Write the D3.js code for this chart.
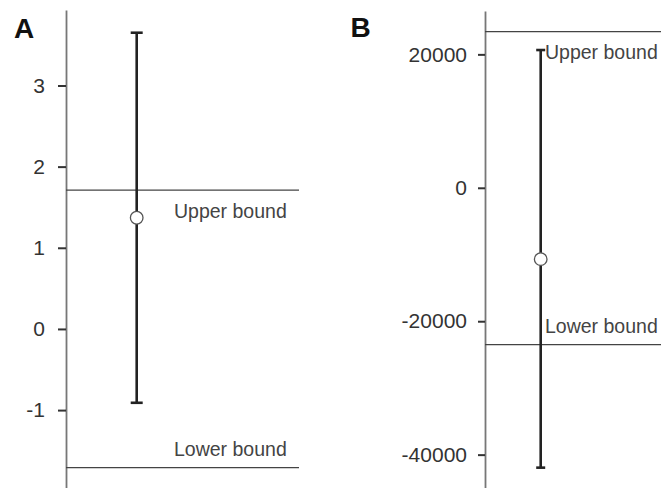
<!DOCTYPE html>
<html>
<head>
<meta charset="utf-8">
<script src="https://cdn.jsdelivr.net/npm/d3@7"></script>
<style>
  body { margin: 0; background: #fff; }
  svg { display: block; font-family: "Liberation Sans", Arial, sans-serif; }
</style>
</head>
<body>
<div id="chart"></div>
<script>
// values
var panelNames = ["A", "B"];
var pointEstimates = [1.37, -10700];
var ciLower = [-0.91, -41950];
var ciUpper = [3.65, 20650];
var upperBounds = [1.71, 23400];
var lowerBounds = [-1.71, -23500];
var tickValuesA = [-1, 0, 1, 2, 3];
var tickValuesB = [-40000, -20000, 0, 20000];
var boundLabels = ["Upper bound", "Lower bound"];

var svgWidth = 661;
var svgHeight = 488;

// layout of each panel
var layout = [
  { axisX: 66, barX: 136.7, lineEnd: 299, labelX: 174, letterX: 14, letterY: 38,
    domain: [-1.96, 3.93], range: [488, 10], ticks: tickValuesA, tickSize: 8, tickPad: 13, cap: 12 },
  { axisX: 485, barX: 540.7, lineEnd: 661, labelX: 545, letterX: 350.5, letterY: 37,
    domain: [-45000, 26500], range: [488, 11], ticks: tickValuesB, tickSize: 7, tickPad: 11, cap: 9 }
];

var svg = d3.select("#chart")
  .append("svg")
  .attr("width", svgWidth)
  .attr("height", svgHeight);

panelNames.forEach(function(name, i) {
  var L = layout[i];
  var y = d3.scaleLinear().domain(L.domain).range(L.range);
  var g = svg.append("g");

  // y axis
  var axis = g.append("g")
    .attr("transform", `translate(${L.axisX},0)`)
    .call(d3.axisLeft(y)
      .tickValues(L.ticks)
      .tickSize(L.tickSize)
      .tickSizeOuter(0)
      .tickPadding(L.tickPad)
      .tickFormat(function(d) { return String(d); }));
  axis.select(".domain").attr("stroke", "#777").attr("stroke-width", 1.8);
  axis.selectAll(".tick line").attr("stroke", "#333").attr("stroke-width", 2);
  axis.selectAll(".tick text")
    .attr("fill", "#333")
    .style("font-size", "21px")
    .style("font-family", "'Liberation Sans', Arial, sans-serif");

  // bound lines
  [upperBounds[i], lowerBounds[i]].forEach(function(b) {
    g.append("line")
      .attr("x1", L.axisX).attr("x2", L.lineEnd)
      .attr("y1", y(b)).attr("y2", y(b))
      .attr("stroke", "#444").attr("stroke-width", 1.3);
  });

  // bound labels: upper sits below its line, lower above
  g.append("text")
    .attr("x", L.labelX).attr("y", y(upperBounds[i]) + 27.5)
    .attr("fill", "#444").style("font-size", "19.5px")
    .text(boundLabels[0]);
  g.append("text")
    .attr("x", L.labelX).attr("y", y(lowerBounds[i]) - 12)
    .attr("fill", "#444").style("font-size", "19.5px")
    .text(boundLabels[1]);

  // error bar
  g.append("line")
    .attr("x1", L.barX).attr("x2", L.barX)
    .attr("y1", y(ciUpper[i])).attr("y2", y(ciLower[i]))
    .attr("stroke", "#222").attr("stroke-width", 2.6);
  [ciUpper[i], ciLower[i]].forEach(function(v) {
    g.append("line")
      .attr("x1", L.barX - L.cap / 2).attr("x2", L.barX + L.cap / 2)
      .attr("y1", y(v)).attr("y2", y(v))
      .attr("stroke", "#222").attr("stroke-width", 2.6);
  });

  // point estimate
  g.append("circle")
    .attr("cx", L.barX).attr("cy", y(pointEstimates[i]))
    .attr("r", 6.3)
    .attr("fill", "#fff").attr("stroke", "#555").attr("stroke-width", 1.3);

  // panel letter
  g.append("text")
    .attr("x", L.letterX).attr("y", L.letterY)
    .attr("fill", "#111")
    .style("font-size", "28px").style("font-weight", "bold")
    .text(name);
});
</script>
</body>
</html>
